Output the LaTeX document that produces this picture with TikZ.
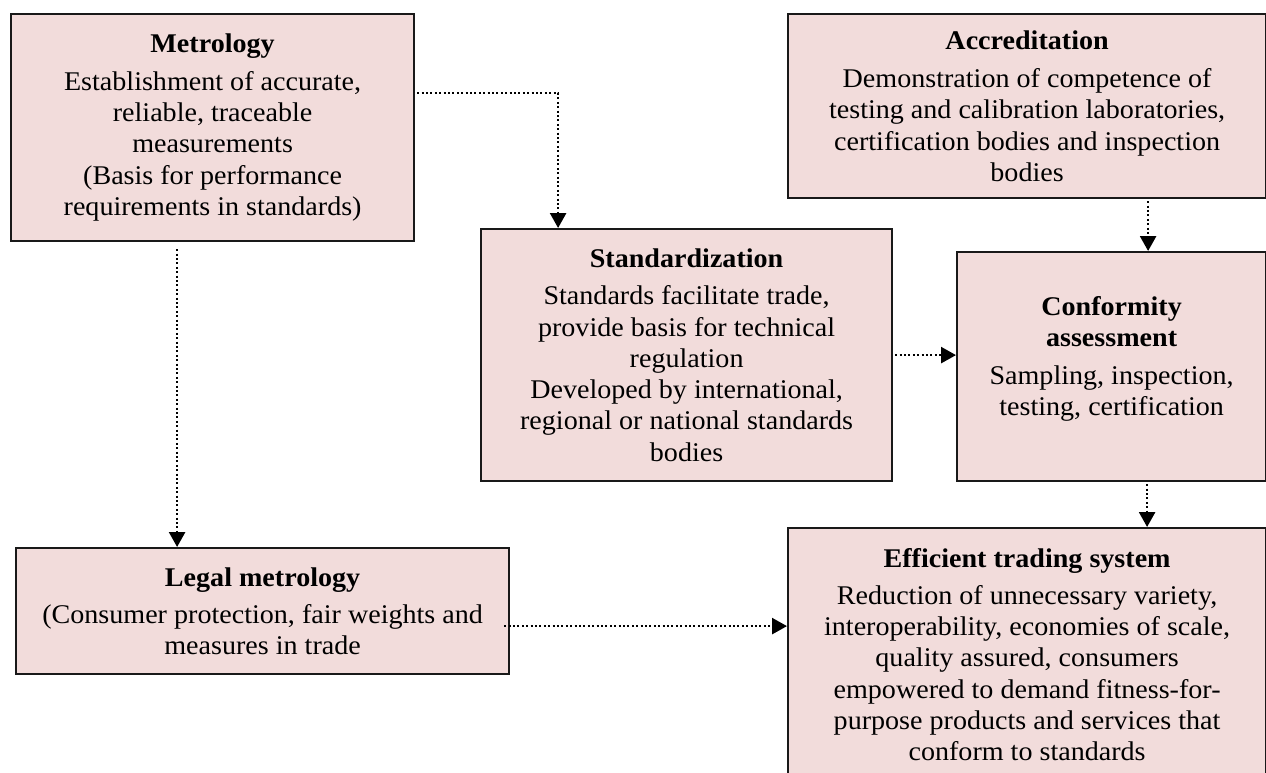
\documentclass[tikz,border=0pt]{standalone}
\usepackage{fontspec}
\setmainfont{Liberation Serif}[FakeStretch=1.04]
\usetikzlibrary{arrows.meta}
\definecolor{boxfill}{HTML}{F2DCDB}
\tikzset{
  box/.style={draw=black!90, line width=2.2pt, fill=boxfill, align=center,
    anchor=north west, inner sep=0pt,
    font=\fontsize{27}{31.3}\selectfont},
  arr/.style={line width=2.6pt, dash pattern=on 2pt off 2.4pt,
    -{Triangle[width=16pt,length=15pt]}, shorten >=0pt},
}
\begin{document}
\begin{tikzpicture}[x=1pt,y=-1pt]
\useasboundingbox (0,0) rectangle (1266,772);
\node[box, minimum width=403pt, minimum height=227pt] (met) at (10,13)
  {\textbf{Metrology}\\[6pt]Establishment of accurate,\\reliable, traceable\\measurements\\(Basis for performance\\requirements in standards)};
\node[box, minimum width=478pt, minimum height=184pt] (acc) at (787,13)
  {\textbf{Accreditation}\\[7pt]Demonstration of competence of\\testing and calibration laboratories,\\certification bodies and inspection\\bodies};
\node[box, minimum width=411pt, minimum height=252pt] (std) at (480,228)
  {\textbf{Standardization}\\[6pt]Standards facilitate trade,\\provide basis for technical\\regulation\\Developed by international,\\regional or national standards\\bodies};
\node[box, minimum width=309pt, minimum height=229pt] (conf) at (956,251)
  {\textbf{Conformity}\\\textbf{assessment}\\[6pt]Sampling, inspection,\\testing, certification\\[-10pt]\mbox{}};
\node[box, minimum width=493pt, minimum height=126pt] (legal) at (15,547)
  {\textbf{Legal metrology}\\[6pt](Consumer protection, fair weights and\\measures in trade};
\node[box, minimum width=478pt, minimum height=253pt] (eff) at (787,527)
  {\textbf{Efficient trading system}\\[6pt]Reduction of unnecessary variety,\\interoperability, economies of scale,\\quality assured, consumers\\empowered to demand fitness-for-\\purpose products and services that\\conform to standards};
% connectors
\draw[arr] ([xshift=2pt,yshift=34.5pt]met.east) -| ([xshift=-128.5pt]std.north);
\draw[arr] ([xshift=-35.5pt,yshift=-7pt]met.south) -- ([xshift=-35.5pt]met.south |- legal.north);
\draw[arr] ([xshift=121pt,yshift=-2pt]acc.south) -- ([xshift=121pt]acc.south |- conf.north);
\draw[arr] ([xshift=2pt]std.east) -- (std.east -| conf.west);
\draw[arr] ([xshift=35.5pt,yshift=-2pt]conf.south) -- ([xshift=35.5pt]conf.south |- eff.north);
\draw[arr] ([xshift=-6pt,yshift=-15pt]legal.east) -- ([yshift=-15pt]legal.east -| eff.west);
\end{tikzpicture}
\end{document}
